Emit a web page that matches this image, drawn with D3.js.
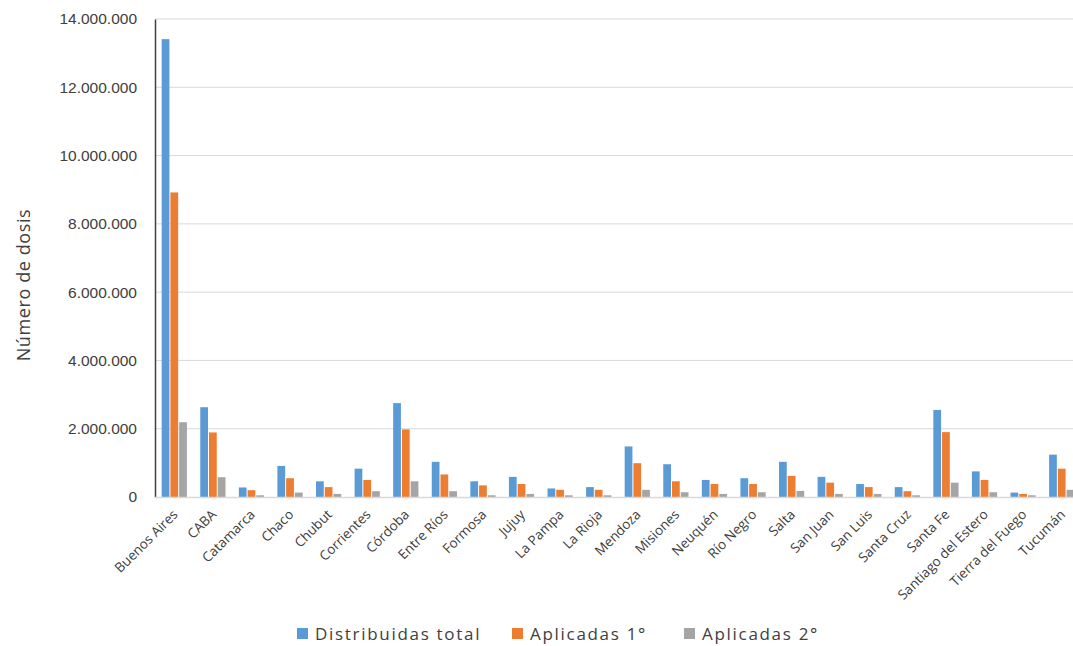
<!DOCTYPE html>
<html>
<head>
<meta charset="utf-8">
<script src="https://cdn.jsdelivr.net/npm/d3@7"></script>
<style>
  html, body { margin: 0; padding: 0; background: #fff; }
  svg { display: block; font-family: "Liberation Sans", Arial, sans-serif; }
  .soft { font-family: "Open Sans", "Noto Sans", sans-serif; }
</style>
</head>
<body>
<svg id="chart" width="1073" height="646"></svg>
<script>
// Dosis de vacunas por provincia
const provincias = ["Buenos Aires", "CABA", "Catamarca", "Chaco", "Chubut", "Corrientes", "Córdoba", "Entre Ríos",
  "Formosa", "Jujuy", "La Pampa", "La Rioja", "Mendoza", "Misiones", "Neuquén", "Río Negro", "Salta", "San Juan",
  "San Luis", "Santa Cruz", "Santa Fe", "Santiago del Estero", "Tierra del Fuego", "Tucumán"];

const distribuidasTotal = [13410000, 2630000, 280000, 910000, 460000, 830000, 2750000, 1030000,
  460000, 590000, 250000, 290000, 1480000, 960000, 500000, 550000, 1030000, 590000,
  380000, 290000, 2550000, 750000, 130000, 1240000];

const aplicadas1 = [8920000, 1890000, 200000, 550000, 290000, 500000, 1980000, 660000,
  340000, 380000, 210000, 210000, 990000, 460000, 380000, 380000, 620000, 420000,
  290000, 170000, 1900000, 500000, 90000, 830000];

const aplicadas2 = [2190000, 580000, 50000, 130000, 90000, 170000, 460000, 170000,
  50000, 90000, 50000, 50000, 210000, 140000, 90000, 140000, 180000, 90000,
  90000, 50000, 420000, 140000, 50000, 210000];

const seriesNames = ["Distribuidas total", "Aplicadas 1°", "Aplicadas 2°"];
const seriesColors = ["#5B9BD5", "#ED7D31", "#A5A5A5"];
const yTicks = [0, 2000000, 4000000, 6000000, 8000000, 10000000, 12000000, 14000000];

const seriesValues = [distribuidasTotal, aplicadas1, aplicadas2];
const svg = d3.select("#chart");

const plot = { left: 155, right: 1081, top: 19, bottom: 497 };

const x = d3.scaleBand().domain(provincias).range([plot.left, plot.right]).paddingInner(0.32).paddingOuter(0.16);
const xSub = d3.scaleBand().domain(seriesNames).range([0, x.bandwidth()]);
const y = d3.scaleLinear().domain([0, 14000000]).range([plot.bottom, plot.top]);

const fmt = v => d3.format(",")(v).replace(/,/g, ".");

// horizontal gridlines
svg.append("g")
  .selectAll("line")
  .data(yTicks.slice(1))
  .join("line")
  .attr("x1", plot.left).attr("x2", 1073)
  .attr("y1", d => y(d)).attr("y2", d => y(d))
  .attr("stroke", "#d9d9d9").attr("stroke-width", 1);

// y axis
const yAxis = svg.append("g")
  .attr("transform", `translate(${plot.left},0)`)
  .call(d3.axisLeft(y).tickValues(yTicks).tickFormat(fmt).tickSize(0).tickPadding(18));
yAxis.select(".domain").attr("stroke", "#404040").attr("stroke-width", 1.5);
yAxis.selectAll("text").attr("font-size", 15.5).attr("fill", "#404040");

// bars
const groups = svg.append("g")
  .selectAll("g")
  .data(provincias)
  .join("g")
  .attr("transform", d => `translate(${x(d)},0)`);

groups.selectAll("rect")
  .data((d, i) => seriesNames.map((s, k) => ({ s, k, v: seriesValues[k][i] })))
  .join("rect")
  .attr("x", d => xSub(d.s) + 0.5)
  .attr("width", xSub.bandwidth() - 1)
  .attr("y", d => y(d.v))
  .attr("height", d => y(0) - y(d.v))
  .attr("fill", d => seriesColors[d.k]);

// baseline
svg.append("line")
  .attr("x1", plot.left).attr("x2", 1073)
  .attr("y1", plot.bottom + 0.5).attr("y2", plot.bottom + 0.5)
  .attr("stroke", "#d9d9d9").attr("stroke-width", 1.5);

// x axis labels
const xAxis = svg.append("g")
  .attr("transform", `translate(0,${plot.bottom})`)
  .call(d3.axisBottom(x).tickSize(0).tickPadding(0));
xAxis.select(".domain").remove();
xAxis.selectAll("text")
  .attr("class", "soft")
  .attr("font-size", 13.5)
  .attr("fill", "#404040")
  .attr("text-anchor", "end")
  .attr("y", 0)
  .attr("dy", "0.35em")
  .attr("transform", "translate(1,15) rotate(-45)");

// y axis title
svg.append("text")
  .attr("class", "soft")
  .attr("transform", "translate(30,285) rotate(-90)")
  .attr("text-anchor", "middle")
  .attr("font-size", 18)
  .attr("letter-spacing", 0.6)
  .attr("fill", "#404040")
  .text("Número de dosis");

// legend
const legendX = [297, 512, 684];
const legend = svg.append("g")
  .selectAll("g")
  .data(seriesNames)
  .join("g")
  .attr("transform", (d, i) => `translate(${legendX[i]},628)`);
legend.append("rect")
  .attr("width", 11).attr("height", 11)
  .attr("fill", (d, i) => seriesColors[i]);
legend.append("text")
  .attr("class", "soft")
  .attr("x", 18).attr("y", 12)
  .attr("font-size", 17)
  .attr("letter-spacing", 1.7)
  .attr("fill", "#404040")
  .text(d => d);
</script>
</body>
</html>
